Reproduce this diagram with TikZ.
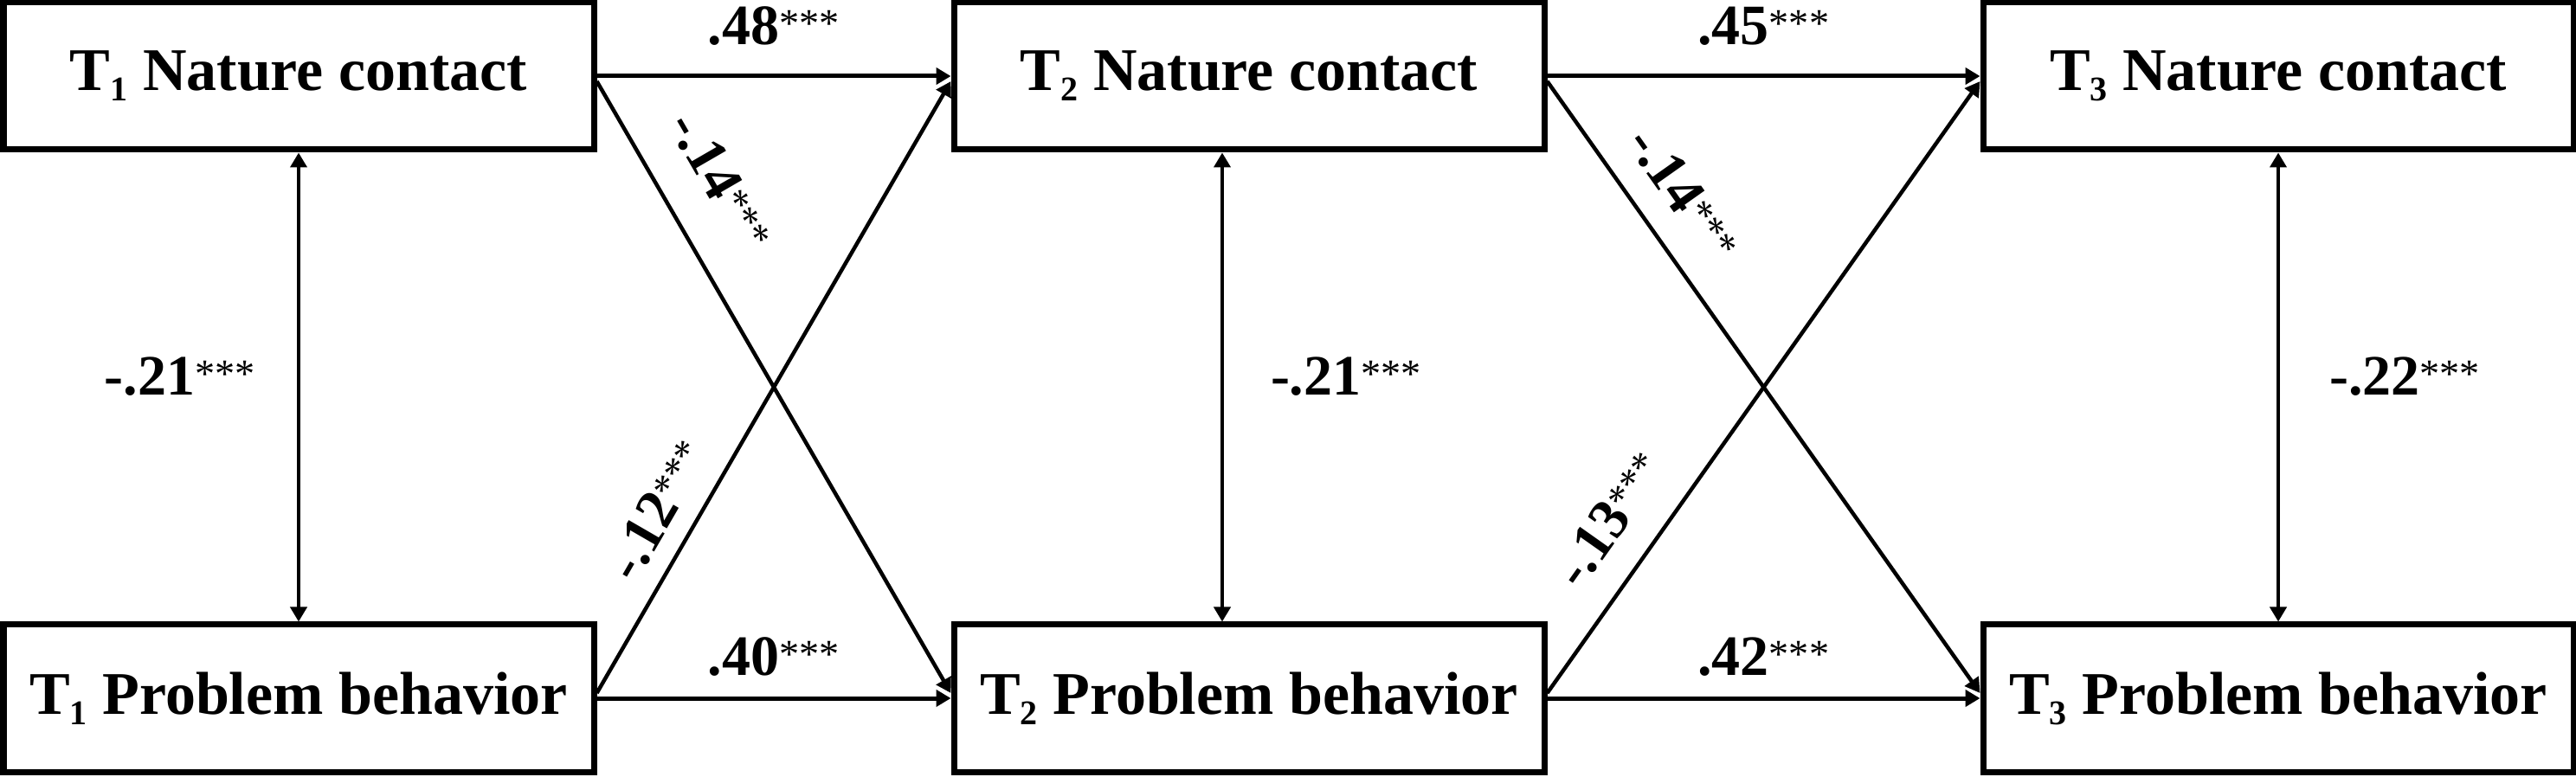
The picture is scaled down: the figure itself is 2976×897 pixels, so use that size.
\documentclass[tikz,border=0pt]{standalone}
\usepackage{fontspec}
\setmainfont{Liberation Serif}
\usetikzlibrary{arrows.meta,positioning,calc}
\newcommand\tsub[1]{\raisebox{-0.17em}{\fontsize{40pt}{40pt}\selectfont #1}}
\newcommand\stars{\textsuperscript{\mdseries ***}}
\tikzset{
  varbox/.style={draw, line width=7pt, minimum width=682pt, minimum height=170pt,
    inner sep=0pt, font=\fontsize{70pt}{84pt}\selectfont\bfseries},
  lab/.style={inner sep=0pt, font=\fontsize{66pt}{80pt}\selectfont\bfseries},
  tip/.tip={Triangle[length=17pt,width=19pt]},
  hpath/.style={line width=5pt, -tip},
  dpath/.style={line width=4.5pt, -tip},
  vpath/.style={line width=4pt, tip-tip},
}
\begin{document}
\begin{tikzpicture}[x=1pt,y=1pt]
\useasboundingbox (0,0) rectangle (2976,897);
\node[varbox] (A1) at (345,809) {T\tsub{1} Nature contact};
\node[varbox] (A2) at (1443,809) {T\tsub{2} Nature contact};
\node[varbox] (A3) at (2632,809) {T\tsub{3} Nature contact};
\node[varbox] (B1) at (345,90) {T\tsub{1} Problem behavior};
\node[varbox] (B2) at (1443,90) {T\tsub{2} Problem behavior};
\node[varbox] (B3) at (2632,90) {T\tsub{3} Problem behavior};
% horizontal paths
\draw[hpath] (A1) -- (A2) node[lab, midway, above=33pt] {.48\stars};
\draw[hpath] (A2) -- (A3) node[lab, midway, above=33pt] {.45\stars};
\draw[hpath] (B1) -- (B2) node[lab, midway, above=23pt] {.40\stars};
\draw[hpath] (B2) -- (B3) node[lab, midway, above=23pt] {.42\stars};
% cross-lagged paths
\draw[dpath] ([yshift=-6pt]A1.east) -- ([yshift=6pt]B2.west)
  node[lab, sloped, pos=0.21, anchor=south, inner ysep=42pt] {-.14\stars};
\draw[dpath] ([yshift=6pt]B1.east) -- ([yshift=-6pt]A2.west)
  node[lab, sloped, pos=0.267, anchor=south, inner ysep=21pt] {-.12\stars};
\draw[dpath] ([yshift=-6pt]A2.east) -- ([yshift=6pt]B3.west)
  node[lab, sloped, pos=0.228, anchor=south, inner ysep=29pt] {-.14\stars};
\draw[dpath] ([yshift=6pt]B2.east) -- ([yshift=-6pt]A3.west)
  node[lab, sloped, pos=0.237, anchor=south, inner ysep=33pt] {-.13\stars};
% correlations
\draw[vpath] (A1) -- (B1)
  node[lab, midway, anchor=base east, xshift=-48pt, yshift=-9pt] {-.21\stars};
\draw[vpath] ([xshift=-31pt]A2.south) -- ([xshift=-31pt]B2.north)
  node[lab, midway, anchor=base west, xshift=54pt, yshift=-9pt] {-.21\stars};
\draw[vpath] (A3) -- (B3)
  node[lab, midway, anchor=base west, xshift=57pt, yshift=-9pt] {-.22\stars};
\end{tikzpicture}
\end{document}
